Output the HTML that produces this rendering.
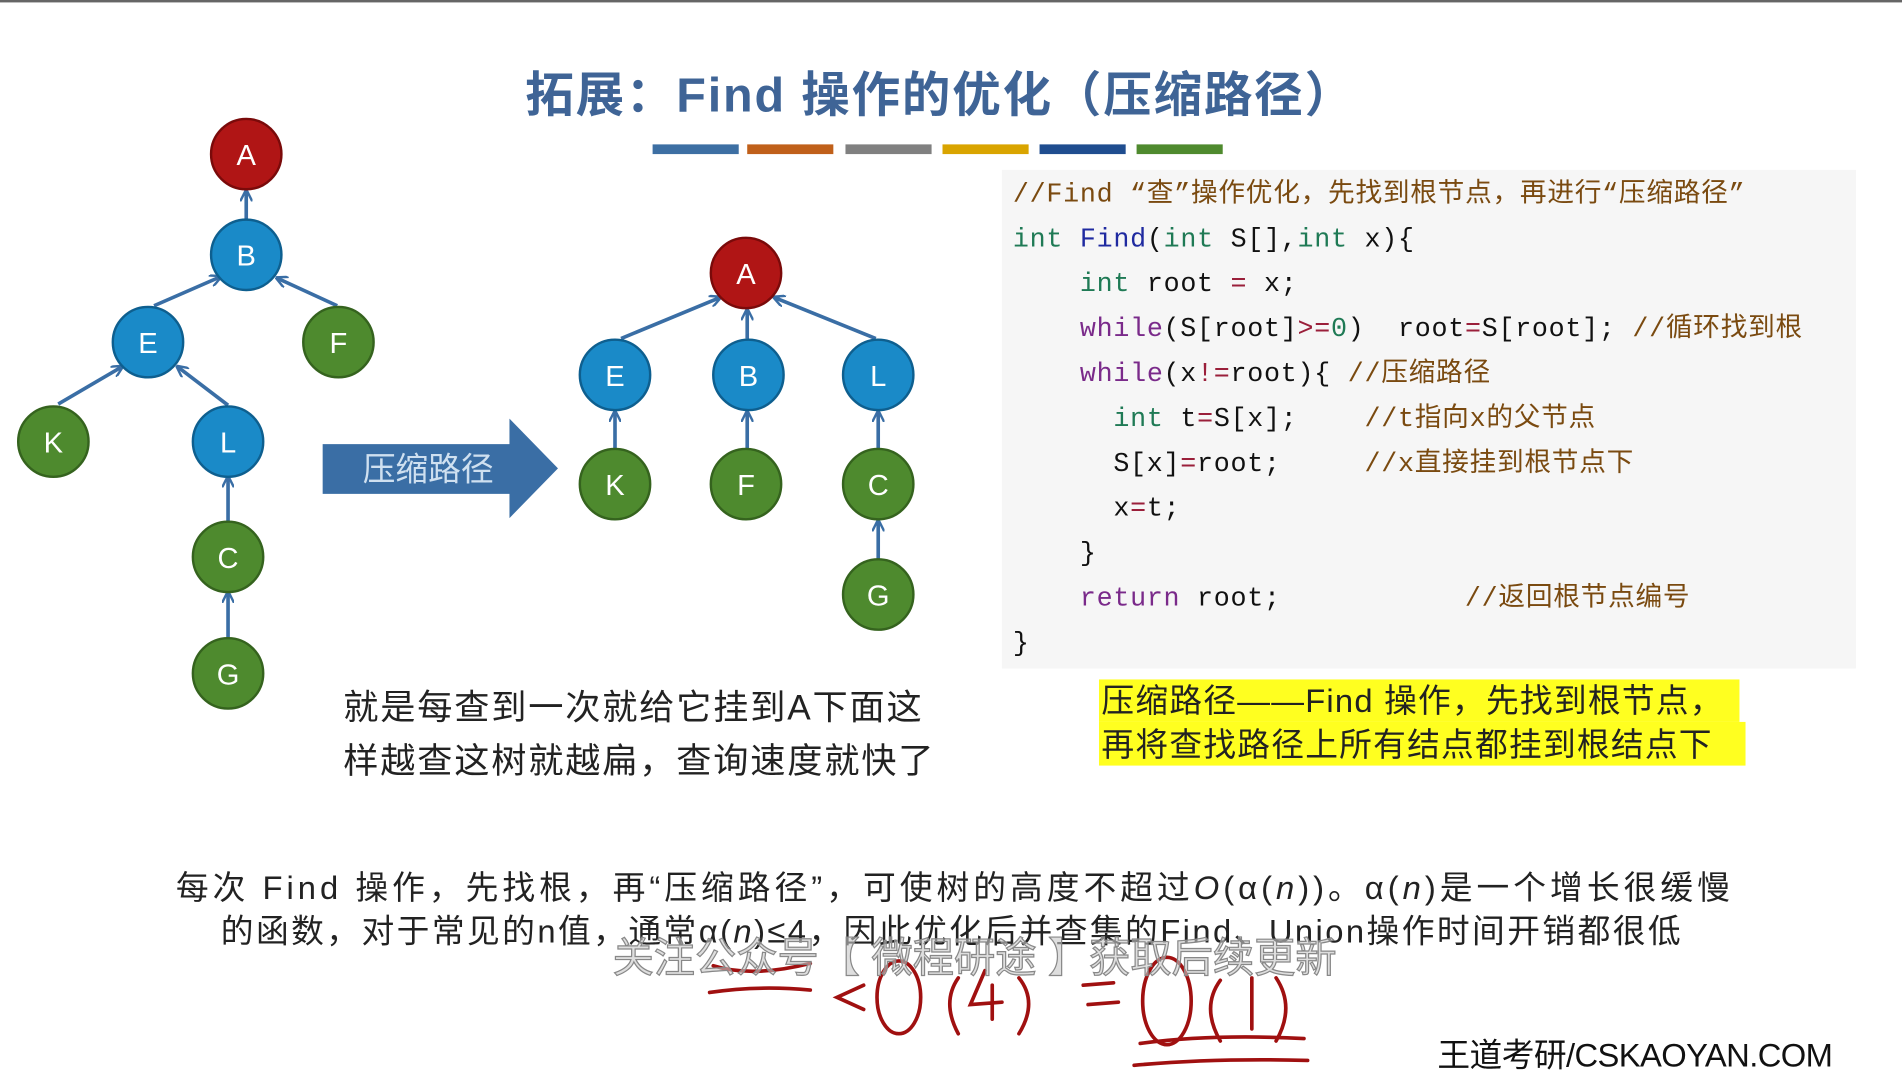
<!DOCTYPE html>
<html><head><meta charset="utf-8"><style>
html,body{margin:0;padding:0;background:#fff;overflow:hidden;width:1902px;height:1075px}
#s{position:absolute;left:0;top:0;width:1568px;height:886px;transform:scale(1.21301,1.2133);transform-origin:0 0;font-family:"Liberation Sans","Noto Sans CJK SC",sans-serif}
.a{position:absolute;white-space:nowrap}
.code{font-family:"Liberation Mono","Noto Sans CJK SC",monospace;font-size:22px;letter-spacing:0.6px;color:#111}
.k{color:#1f7a55}.w{color:#7a2a8a}.c{color:#7a4a10}.f{color:#1f2aa0}.o{color:#9a1f3a}
</style></head><body><div id="s">
<div class="a" style="left:0;top:0;width:1568px;height:2px;background:#666"></div>
<div class="a" style="left:433px;top:46px;font-size:40px;font-weight:bold;color:#3f6496;letter-spacing:1.5px">拓展：Find 操作的优化（压缩路径）</div>
<div class="a" style="left:538px;top:119px;width:71px;height:8px;background:#3d6fa3"></div>
<div class="a" style="left:616px;top:119px;width:71px;height:8px;background:#c0601a"></div>
<div class="a" style="left:697px;top:119px;width:71px;height:8px;background:#808080"></div>
<div class="a" style="left:777px;top:119px;width:71px;height:8px;background:#d9a400"></div>
<div class="a" style="left:857px;top:119px;width:71px;height:8px;background:#1f4d8f"></div>
<div class="a" style="left:937px;top:119px;width:71px;height:8px;background:#4f8a2e"></div>

<svg class="a" style="left:0;top:0" width="1568" height="886">
<defs><marker id="m" markerWidth="10" markerHeight="10" refX="9" refY="5" orient="auto" markerUnits="userSpaceOnUse"><path d="M0,0 L10,5 L0,10" fill="none" stroke="#3a6ea5" stroke-width="2"/></marker></defs>
<g stroke="#3a6ea5" stroke-width="3" marker-end="url(#m)">
<line x1="203" y1="181" x2="203" y2="157"/>
<line x1="127" y1="252" x2="182" y2="228"/>
<line x1="278" y1="252" x2="228" y2="229"/>
<line x1="48" y1="333" x2="101" y2="302"/>
<line x1="188" y1="334" x2="146" y2="302"/>
<line x1="188" y1="430" x2="188" y2="393"/>
<line x1="188" y1="526" x2="188" y2="488"/>
<line x1="512" y1="279" x2="594" y2="245"/>
<line x1="616" y1="279" x2="616" y2="255"/>
<line x1="722" y1="279" x2="638" y2="245"/>
<line x1="507" y1="370" x2="507" y2="339"/>
<line x1="616" y1="370" x2="616" y2="339"/>
<line x1="724" y1="370" x2="724" y2="339"/>
<line x1="724" y1="461" x2="724" y2="429"/>
</g>
<polygon points="266,366 420,366 420,345 460,386 420,427 420,407 266,407" fill="#3a6ea5"/>
<g stroke-width="2">
<circle cx="203" cy="127" r="29" fill="#b01515" stroke="#7a0a0a"/>
<circle cx="203" cy="210" r="29" fill="#1a8ac8" stroke="#0e5f8f"/>
<circle cx="122" cy="282" r="29" fill="#1a8ac8" stroke="#0e5f8f"/>
<circle cx="279" cy="282" r="29" fill="#4e8a2e" stroke="#35631e"/>
<circle cx="44" cy="364" r="29" fill="#4e8a2e" stroke="#35631e"/>
<circle cx="188" cy="364" r="29" fill="#1a8ac8" stroke="#0e5f8f"/>
<circle cx="188" cy="459" r="29" fill="#4e8a2e" stroke="#35631e"/>
<circle cx="188" cy="555" r="29" fill="#4e8a2e" stroke="#35631e"/>
<circle cx="615" cy="225" r="29" fill="#b01515" stroke="#7a0a0a"/>
<circle cx="507" cy="309" r="29" fill="#1a8ac8" stroke="#0e5f8f"/>
<circle cx="617" cy="309" r="29" fill="#1a8ac8" stroke="#0e5f8f"/>
<circle cx="724" cy="309" r="29" fill="#1a8ac8" stroke="#0e5f8f"/>
<circle cx="507" cy="399" r="29" fill="#4e8a2e" stroke="#35631e"/>
<circle cx="615" cy="399" r="29" fill="#4e8a2e" stroke="#35631e"/>
<circle cx="724" cy="399" r="29" fill="#4e8a2e" stroke="#35631e"/>
<circle cx="724" cy="490" r="29" fill="#4e8a2e" stroke="#35631e"/>
</g>
<g fill="#fff" font-family="Liberation Sans,sans-serif" font-size="24" text-anchor="middle">
<text x="203" y="136">A</text><text x="203" y="219">B</text><text x="122" y="291">E</text><text x="279" y="291">F</text>
<text x="44" y="373">K</text><text x="188" y="373">L</text><text x="188" y="468">C</text><text x="188" y="564">G</text>
<text x="615" y="234">A</text><text x="507" y="318">E</text><text x="617" y="318">B</text><text x="724" y="318">L</text>
<text x="507" y="408">K</text><text x="615" y="408">F</text><text x="724" y="408">C</text><text x="724" y="499">G</text>
</g>
<text x="353" y="396" fill="#cfe0f0" font-size="27" text-anchor="middle" font-family="Liberation Sans,Noto Sans CJK SC,sans-serif">压缩路径</text>
<g fill="none" stroke="#a01010" stroke-width="3" stroke-linecap="round">
<path d="M588,796 Q620,806 668,794"/><path d="M585,818 Q625,812 668,816"/>
<path d="M712,812 L690,822 L712,832"/>
<ellipse cx="741" cy="822" rx="18" ry="30"/>
<path d="M790,806 Q776,826 790,852"/><path d="M812,800 L800,828 L826,826 M818,812 L818,840"/><path d="M840,806 Q856,826 840,852"/>
<path d="M893,812 L918,810 M897,828 L922,826"/>
<ellipse cx="962" cy="825" rx="20" ry="36"/>
<path d="M1006,808 Q990,830 1006,858"/><path d="M1032,806 L1032,848"/><path d="M1052,806 Q1068,830 1052,858"/>
<path d="M940,860 Q1000,852 1075,856"/><path d="M935,878 Q1000,872 1078,874"/>
</g>
</svg>

<div class="a" style="left:826px;top:140px;width:704px;height:411px;background:#f6f6f6"></div>
<div class="a code" style="left:835px;top:142px;line-height:37px">
<div class="c">//Find “查”操作优化，先找到根节点，再进行“压缩路径”</div>
<div><span class="k">int</span> <span class="f">Find</span>(<span class="k">int</span> S[],<span class="k">int</span> x){</div>
<div>&nbsp;&nbsp;&nbsp;&nbsp;<span class="k">int</span> root <span class="o">=</span> x;</div>
<div>&nbsp;&nbsp;&nbsp;&nbsp;<span class="w">while</span>(S[root]<span class="o">&gt;=</span><span class="k">0</span>)&nbsp;&nbsp;root<span class="o">=</span>S[root]; <span class="c">//循环找到根</span></div>
<div>&nbsp;&nbsp;&nbsp;&nbsp;<span class="w">while</span>(x<span class="o">!=</span>root){ <span class="c">//压缩路径</span></div>
<div>&nbsp;&nbsp;&nbsp;&nbsp;&nbsp;&nbsp;<span class="k">int</span> t<span class="o">=</span>S[x];&nbsp;&nbsp;&nbsp;&nbsp;<span class="c">//t指向x的父节点</span></div>
<div>&nbsp;&nbsp;&nbsp;&nbsp;&nbsp;&nbsp;S[x]<span class="o">=</span>root;&nbsp;&nbsp;&nbsp;&nbsp;&nbsp;<span class="c">//x直接挂到根节点下</span></div>
<div>&nbsp;&nbsp;&nbsp;&nbsp;&nbsp;&nbsp;x<span class="o">=</span>t;</div>
<div>&nbsp;&nbsp;&nbsp;&nbsp;}</div>
<div>&nbsp;&nbsp;&nbsp;&nbsp;<span class="w">return</span> root;&nbsp;&nbsp;&nbsp;&nbsp;&nbsp;&nbsp;&nbsp;&nbsp;&nbsp;&nbsp;&nbsp;<span class="c">//返回根节点编号</span></div>
<div>}</div>
</div>

<div class="a" style="left:906px;top:560px;width:528px;height:35px;background:#ffff20"></div>
<div class="a" style="left:906px;top:595px;width:533px;height:36px;background:#ffff20"></div>
<div class="a" style="left:908px;top:560px;font-size:27px;line-height:36px;color:#222;letter-spacing:1px">压缩路径——Find 操作，先找到根节点，<br>再将查找路径上所有结点都挂到根结点下</div>

<div class="a" style="left:283px;top:562px;font-size:29px;line-height:44px;color:#222;letter-spacing:1.5px">就是每查到一次就给它挂到A下面这<br>样越查这树就越扁，查询速度就快了</div>

<div class="a" style="left:145px;top:710px;font-size:27px;color:#222;letter-spacing:3.3px">每次 Find 操作，先找根，再“压缩路径”，可使树的高度不超过<i>O</i>(α(<i>n</i>))。α(<i>n</i>)是一个增长很缓慢</div>
<div class="a" style="left:182px;top:746px;font-size:27px;color:#222;letter-spacing:2px">的函数，对于常见的n值，通常α(<i>n</i>)≤4，因此优化后并查集的Find、Union操作时间开销都很低</div>
<div class="a" style="left:505px;top:762px;font-size:34px;color:rgba(200,200,200,0.6);-webkit-text-stroke:1px #888">关注公众号【 微程研途 】获取后续更新</div>
<div class="a" style="left:1185px;top:848px;font-size:27px;color:#111;letter-spacing:-0.5px">王道考研/CSKAOYAN.COM</div>
</div></body></html>
